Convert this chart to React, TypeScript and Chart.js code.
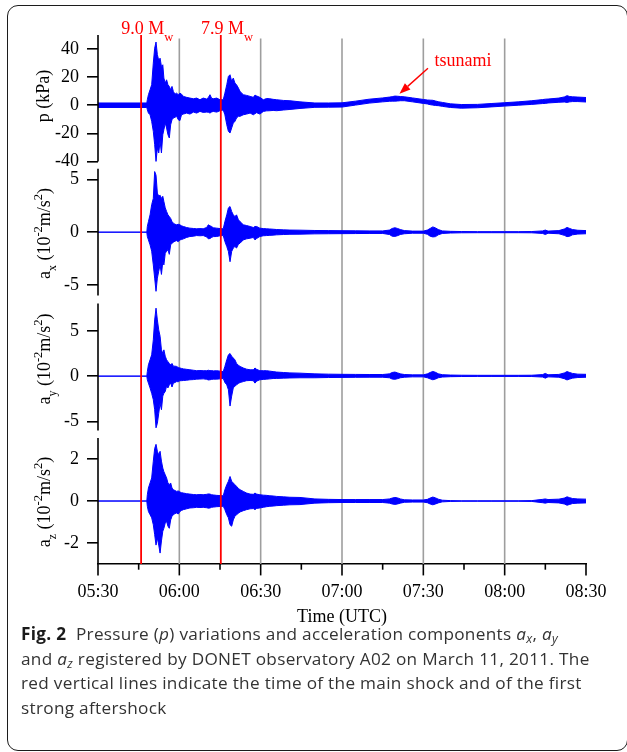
import React, { useEffect, useRef } from 'react';
import { Chart, registerables } from 'chart.js';

Chart.register(...registerables);

// ---------- data (time in minutes after 05:30 UTC) ----------
const TIME_MIN = [
  0, 18.0, 18.2, 18.6, 19.2, 19.8, 20.4, 20.9, 21.4, 21.9,
  22.4, 22.9, 23.4, 23.9, 24.3, 24.8, 25.3, 25.8, 26.3, 26.8,
  27.3, 27.8, 28.4, 29.0, 29.6, 30.2, 30.8, 31.5, 32.7, 33.9,
  35.2, 36.4, 37.6, 38.8, 40.1, 40.7, 41.3, 41.9, 42.5, 43.8,
  45.0, 46.2, 46.8, 47.5, 48.1, 48.7, 49.3, 49.9, 50.5, 51.1,
  51.8, 52.4, 53.6, 54.8, 56.1, 57.3, 57.9, 58.5, 59.7, 61.0,
  62.2, 63.4, 64.6, 65.9, 68.4, 70.8, 74.5, 80, 85, 90,
  95, 100, 105, 107.5, 108.5, 109.5, 110.5, 111.5, 113, 116,
  120, 121.5, 122.5, 123.5, 124.5, 125.5, 127, 130, 134, 140,
  145, 150, 155, 160, 164, 165, 166, 170, 172, 173,
  174, 175, 177, 180,
];

// pressure p (kPa): upper / lower envelope
const P_HI = [
  1.6, 1.6, 3.9, 7.5, 11, 14.6, 30, 40.6, 45, 36,
  32, 33.5, 27.6, 28.8, 19.3, 15.8, 18.1, 14.6, 13.4, 11,
  13.4, 9.8, 7.9, 8.6, 7.5, 8.6, 7.9, 6.3, 5.6, 5.1,
  4.6, 5.1, 3.9, 5.1, 4.4, 5.5, 7.5, 5.0, 4.6, 5.1,
  3.9, 3.9, 8.6, 14.6, 20.5, 21.7, 17, 19.3, 15.8, 14.6,
  12.2, 9.8, 7.5, 7, 6.3, 5.6, 7.2, 6.6, 5.6, 3.9,
  4.8, 4.6, 4.2, 3.9, 3.4, 3.2, 2.4, 1.6, 1.6, 1.7,
  2.9, 4.3, 5.2, 5.8, 6.1, 6.5, 6.4, 6.2, 6.0, 5.2,
  4.1, 3.7, 3.6, 3.5, 3.0, 2.5, 2.0, 1.0, 0.5, 0.6,
  1.2, 1.8, 2.4, 3.2, 4.0, 4.3, 4.4, 5.1, 5.9, 6.8,
  6.2, 6.0, 5.8, 5.5,
];
const P_LO = [
  -1.6, -1.6, -3.2, -5.6, -6.8, -11.5, -18.6, -28, -40, -30.5,
  -34, -25.7, -34, -21, -17.4, -12.7, -16.2, -21, -23.3, -13.9,
  -10.3, -9.1, -8.6, -7.9, -10.3, -11, -6.8, -6.3, -5.6, -6.3,
  -4.9, -5.6, -4.4, -5.1, -4.9, -5.0, -5.6, -4.8, -4.4, -4.9,
  -3.9, -3.4, -6.8, -13.9, -18.6, -19.8, -16.2, -12.7, -11.5, -9.1,
  -7.9, -7.9, -6.8, -6.3, -5.6, -6.8, -6.0, -5.3, -6.3, -4.4,
  -4.0, -3.9, -3.7, -3.9, -3.4, -3.0, -2.3, -1.5, -1.4, -1.3,
  0.1, 1.5, 2.4, 2.8, 2.9, 2.9, 3.0, 3.2, 3.2, 2.4,
  1.3, 0.9, 0.4, 0.1, -0.2, -0.3, -0.8, -1.6, -2.1, -1.8,
  -1.2, -0.6, 0, 0.6, 1.2, 1.3, 1.6, 2.1, 2.3, 2.0,
  2.4, 2.6, 2.6, 2.3,
];

// a_x (10^-2 m/s^2)
const AX_HI = [
  0, 0, 0.54, 1.0, 1.64, 2.6, 3.2, 5.74, 5.4, 3.7,
  3.4, 3.5, 3.2, 3.4, 2.9, 2.3, 1.96, 1.64, 1.48, 1.3,
  1.0, 0.85, 0.75, 0.7, 0.75, 0.7, 0.6, 0.54, 0.44, 0.38,
  0.35, 0.32, 0.34, 0.32, 0.45, 0.7, 0.6, 0.54, 0.42, 0.38,
  0.34, 0.32, 1.0, 1.64, 2.3, 2.43, 1.96, 1.64, 1.48, 1.64,
  1.17, 1.0, 0.7, 0.63, 0.54, 0.44, 0.54, 0.54, 0.38, 0.34,
  0.32, 0.3, 0.28, 0.25, 0.22, 0.2, 0.19, 0.16, 0.15, 0.14,
  0.13, 0.12, 0.12, 0.2, 0.35, 0.42, 0.35, 0.25, 0.15, 0.1,
  0.1, 0.2, 0.35, 0.5, 0.4, 0.25, 0.12, 0.08, 0.06, 0.05,
  0.05, 0.05, 0.05, 0.06, 0.12, 0.2, 0.1, 0.15, 0.3, 0.45,
  0.35, 0.25, 0.18, 0.15,
];
const AX_LO = [
  0, 0, -0.41, -0.73, -1.2, -1.8, -3.1, -4.35, -5.6, -4.35,
  -3.7, -3.1, -4.0, -2.8, -3.1, -2.0, -1.8, -1.67, -2.1, -1.2,
  -1.04, -0.95, -0.85, -0.8, -0.9, -0.73, -0.7, -0.63, -0.5, -0.41,
  -0.38, -0.32, -0.34, -0.32, -0.45, -0.63, -0.6, -0.5, -0.42, -0.41,
  -0.34, -0.32, -0.88, -1.36, -1.83, -2.8, -1.83, -1.5, -1.36, -1.5,
  -1.14, -1.04, -0.73, -0.63, -0.57, -0.5, -0.73, -0.6, -0.41, -0.34,
  -0.32, -0.3, -0.28, -0.25, -0.22, -0.2, -0.19, -0.16, -0.15, -0.14,
  -0.13, -0.12, -0.12, -0.22, -0.38, -0.4, -0.33, -0.22, -0.15, -0.1,
  -0.1, -0.2, -0.38, -0.45, -0.42, -0.25, -0.12, -0.08, -0.06, -0.05,
  -0.05, -0.05, -0.05, -0.06, -0.12, -0.22, -0.1, -0.15, -0.3, -0.42,
  -0.38, -0.25, -0.18, -0.15,
];

// a_y (10^-2 m/s^2)
const AY_HI = [
  0, 0, 0.5, 1.25, 1.8, 2.35, 4.0, 6.2, 7.5, 6.2,
  5.1, 4.4, 2.9, 2.5, 2.9, 2.2, 1.8, 1.6, 1.4, 1.25,
  1.4, 1.1, 1.1, 1.07, 0.95, 0.9, 0.85, 0.8, 0.75, 0.7,
  0.65, 0.6, 0.62, 0.6, 0.6, 0.65, 0.6, 0.62, 0.58, 0.6,
  0.55, 0.5, 1.07, 1.8, 2.35, 2.5, 2.2, 2.0, 1.8, 1.4,
  1.2, 1.07, 0.9, 0.77, 0.7, 0.7, 0.9, 0.75, 0.6, 0.6,
  0.6, 0.55, 0.5, 0.45, 0.4, 0.36, 0.33, 0.25, 0.22, 0.2,
  0.19, 0.18, 0.18, 0.25, 0.4, 0.45, 0.36, 0.25, 0.18, 0.14,
  0.14, 0.25, 0.4, 0.52, 0.42, 0.26, 0.16, 0.12, 0.1, 0.09,
  0.09, 0.09, 0.09, 0.1, 0.17, 0.3, 0.15, 0.19, 0.35, 0.5,
  0.4, 0.3, 0.22, 0.2,
];
const AY_LO = [
  0, 0, -0.4, -0.77, -1.3, -1.9, -2.6, -3.7, -5.7, -5.2,
  -4.1, -3.0, -3.7, -2.2, -1.9, -1.7, -1.1, -1.3, -0.96, -0.77,
  -1.2, -0.77, -0.7, -0.6, -0.62, -0.5, -0.5, -0.48, -0.45, -0.4,
  -0.38, -0.33, -0.32, -0.3, -0.35, -0.42, -0.4, -0.36, -0.33, -0.33,
  -0.3, -0.26, -0.7, -0.96, -1.5, -3.3, -2.2, -1.3, -1.1, -0.96,
  -0.8, -0.7, -0.6, -0.5, -0.48, -0.5, -0.77, -0.55, -0.4, -0.36,
  -0.33, -0.3, -0.26, -0.25, -0.22, -0.2, -0.18, -0.18, -0.15, -0.14,
  -0.13, -0.12, -0.12, -0.18, -0.32, -0.35, -0.28, -0.18, -0.12, -0.08,
  -0.08, -0.18, -0.3, -0.4, -0.32, -0.18, -0.1, -0.06, -0.04, -0.03,
  -0.03, -0.03, -0.03, -0.04, -0.1, -0.22, -0.08, -0.12, -0.28, -0.42,
  -0.32, -0.22, -0.15, -0.12,
];

// a_z (10^-2 m/s^2)
const AZ_HI = [
  0, 0, 0.3, 0.62, 0.86, 1.1, 1.9, 2.5, 2.7, 2.37,
  2.2, 2.37, 1.9, 1.57, 1.4, 1.25, 1.1, 0.86, 0.78, 0.86,
  0.62, 0.54, 0.5, 0.46, 0.48, 0.43, 0.4, 0.38, 0.35, 0.33,
  0.31, 0.3, 0.31, 0.3, 0.32, 0.34, 0.33, 0.3, 0.29, 0.27,
  0.26, 0.25, 0.54, 0.78, 0.94, 1.17, 0.94, 0.86, 0.78, 0.7,
  0.6, 0.54, 0.46, 0.38, 0.33, 0.32, 0.38, 0.33, 0.3, 0.28,
  0.27, 0.25, 0.24, 0.22, 0.2, 0.18, 0.17, 0.1, 0.08, 0.07,
  0.07, 0.07, 0.07, 0.1, 0.14, 0.17, 0.15, 0.1, 0.06, 0.05,
  0.05, 0.08, 0.14, 0.19, 0.15, 0.09, 0.04, 0.02, 0.01, 0.01,
  0.01, 0.01, 0.01, 0.02, 0.08, 0.1, 0.07, 0.09, 0.14, 0.2,
  0.16, 0.12, 0.1, 0.09,
];
const AZ_LO = [
  0, 0, -0.25, -0.5, -0.65, -0.8, -1.13, -1.6, -2.1, -1.76,
  -2.1, -2.48, -1.9, -1.44, -1.3, -1.05, -0.97, -1.2, -1.3, -0.9,
  -0.73, -0.65, -0.6, -0.57, -0.62, -0.5, -0.45, -0.41, -0.37, -0.33,
  -0.32, -0.3, -0.31, -0.3, -0.32, -0.34, -0.33, -0.3, -0.29, -0.27,
  -0.26, -0.25, -0.41, -0.65, -0.8, -1.13, -1.2, -0.9, -0.73, -0.65,
  -0.58, -0.52, -0.46, -0.41, -0.37, -0.36, -0.41, -0.35, -0.33, -0.3,
  -0.27, -0.25, -0.24, -0.22, -0.2, -0.18, -0.17, -0.1, -0.08, -0.07,
  -0.07, -0.07, -0.07, -0.1, -0.14, -0.16, -0.14, -0.1, -0.06, -0.05,
  -0.05, -0.08, -0.14, -0.18, -0.14, -0.09, -0.04, -0.02, -0.01, -0.01,
  -0.01, -0.01, -0.01, -0.02, -0.08, -0.1, -0.07, -0.09, -0.14, -0.2,
  -0.16, -0.12, -0.1, -0.09,
];

// axes / annotations
const X_TICK_MIN = [0, 15, 30, 45, 60, 75, 90, 105, 120, 135, 150, 165, 180];
const TIME_LABELS = ['05:30', '06:00', '06:30', '07:00', '07:30', '08:00', '08:30'];
const GRID_MIN = [30, 60, 90, 120, 150];
const SHOCK_MIN = [15.9, 45.3];
const SHOCK_MAG = ['9.0', '7.9'];
const P_TICKS = [-40, -20, 0, 20, 40];
const AX_TICKS = [-5, 0, 5];
const AY_TICKS = [-5, 0, 5];
const AZ_TICKS = [-2, 0, 2];
const TSUNAMI_AT = { t: 111.2, p: 8.2 };

// ---------- styles ----------
const SERIF = '"Liberation Serif", "Times New Roman", serif';
const BLUE = 'rgb(0,0,255)';
const RED = 'rgb(255,0,0)';
const fnt = (s: number) => `${s}px ${SERIF}`;

type Seg = { text: string; size: number; dy?: number };
const aTitle = (c: string): Seg[] => [
  { text: 'a', size: 18 },
  { text: c, size: 12, dy: 5.5 },
  { text: ' (10', size: 18 },
  { text: '-2', size: 12.5, dy: -8.5 },
  { text: 'm/s', size: 18 },
  { text: '2', size: 12.5, dy: -8.5 },
  { text: ')', size: 18 },
];

const PANELS = [
  { id: 'yP', hi: P_HI, lo: P_LO, ticks: P_TICKS, min: -42.86, max: 50, axLo: -40, axHi: 50, sw: 130.5, order: 4,
    title: [{ text: 'p (kPa)', size: 18 }] as Seg[], tx: 48.5, ty: 96 },
  { id: 'yAx', hi: AX_HI, lo: AX_LO, ticks: AX_TICKS, min: -6.36, max: 6.32, axLo: -6, axHi: 6, sw: 134, order: 3,
    title: aTitle('x'), tx: 50, ty: 233.5 },
  { id: 'yAy', hi: AY_HI, lo: AY_LO, ticks: AY_TICKS, min: -6.39, max: 8.47, axLo: -6, axHi: 8, sw: 134.8, order: 2,
    title: aTitle('y'), tx: 50, ty: 359 },
  { id: 'yAz', hi: AZ_HI, lo: AZ_LO, ticks: AZ_TICKS, min: -3.0, max: 3.19, axLo: -3, axHi: 3, sw: 130, order: 1,
    title: aTitle('z'), tx: 50, ty: 502 },
];

function segWidth(ctx: CanvasRenderingContext2D, segs: Seg[]) {
  let w = 0;
  for (const s of segs) { ctx.font = fnt(s.size); w += ctx.measureText(s.text).width; }
  return w;
}
function drawSegs(ctx: CanvasRenderingContext2D, segs: Seg[], x: number, y: number) {
  let cx = x;
  for (const s of segs) {
    ctx.font = fnt(s.size);
    ctx.fillText(s.text, cx, y + (s.dy || 0));
    cx += ctx.measureText(s.text).width;
  }
}

const overlay = {
  id: 'overlay',
  beforeDatasetsDraw(chart: any) {
    const { ctx, chartArea, scales } = chart;
    ctx.save();
    ctx.strokeStyle = 'rgb(158,158,158)';
    ctx.lineWidth = 1.6;
    for (const t of GRID_MIN) {
      const px = scales.x.getPixelForValue(t);
      ctx.beginPath();
      ctx.moveTo(px, chartArea.top + 3.5);
      ctx.lineTo(px, chartArea.bottom);
      ctx.stroke();
    }
    ctx.restore();
  },
  afterDatasetsDraw(chart: any) {
    const { ctx, chartArea, scales } = chart;
    ctx.save();
    ctx.strokeStyle = RED;
    ctx.lineWidth = 1.8;
    for (const t of SHOCK_MIN) {
      const px = scales.x.getPixelForValue(t);
      ctx.beginPath();
      ctx.moveTo(px, chartArea.top);
      ctx.lineTo(px, chartArea.bottom);
      ctx.stroke();
    }
    ctx.restore();
  },
  afterDraw(chart: any) {
    const { ctx, chartArea, scales } = chart;
    const xs = scales.x;
    ctx.save();
    // y axis lines (one per panel)
    ctx.strokeStyle = '#000';
    ctx.lineWidth = 1.6;
    for (const p of PANELS) {
      const s = scales[p.id];
      ctx.beginPath();
      ctx.moveTo(chartArea.left, s.getPixelForValue(p.axHi));
      ctx.lineTo(chartArea.left, s.getPixelForValue(p.axLo));
      ctx.stroke();
    }
    // x tick marks (major every 30 min, minor every 15)
    for (const t of X_TICK_MIN) {
      const px = xs.getPixelForValue(t);
      const len = t % 30 === 0 ? 11.4 : 5.7;
      ctx.beginPath();
      ctx.moveTo(px, chartArea.bottom);
      ctx.lineTo(px, chartArea.bottom + len);
      ctx.stroke();
    }
    // axis titles
    ctx.fillStyle = '#000';
    ctx.textBaseline = 'alphabetic';
    ctx.textAlign = 'left';
    for (const p of PANELS) {
      ctx.save();
      ctx.translate(p.tx, p.ty);
      ctx.rotate(-Math.PI / 2);
      const w = segWidth(ctx, p.title);
      drawSegs(ctx, p.title, -w / 2, 0);
      ctx.restore();
    }
    ctx.font = fnt(18);
    ctx.textAlign = 'center';
    ctx.fillText('Time (UTC)', (chartArea.left + chartArea.right) / 2, 622);
    // magnitude labels
    ctx.textAlign = 'left';
    ctx.fillStyle = RED;
    SHOCK_MIN.forEach((t, i) => {
      const px = xs.getPixelForValue(t);
      drawSegs(ctx, [{ text: SHOCK_MAG[i] + ' M', size: 18 }, { text: 'w', size: 12.5, dy: 6.4 }], px - 19.8, 34.3);
    });
    // tsunami annotation
    const tipX = xs.getPixelForValue(TSUNAMI_AT.t);
    const tipY = scales.yP.getPixelForValue(TSUNAMI_AT.p);
    ctx.font = fnt(18);
    ctx.fillText('tsunami', tipX + 35, tipY - 27.3);
    const tailX = tipX + 28.5, tailY = tipY - 25.5;
    const ang = Math.atan2(tipY - tailY, tipX - tailX);
    const hl = 11, hw = 4.2;
    const bx = tipX - hl * Math.cos(ang), by = tipY - hl * Math.sin(ang);
    ctx.strokeStyle = RED;
    ctx.lineWidth = 1.4;
    ctx.beginPath();
    ctx.moveTo(tailX, tailY);
    ctx.lineTo(bx, by);
    ctx.stroke();
    ctx.beginPath();
    ctx.moveTo(tipX, tipY);
    ctx.lineTo(bx + hw * Math.sin(ang), by - hw * Math.cos(ang));
    ctx.lineTo(bx - hw * Math.sin(ang), by + hw * Math.cos(ang));
    ctx.closePath();
    ctx.fill();
    ctx.restore();
  },
};

export default function App() {
  const canvasRef = useRef<HTMLCanvasElement | null>(null);

  useEffect(() => {
    if (!canvasRef.current) return;
    const datasets: any[] = [];
    for (const p of PANELS) {
      datasets.push({
        data: TIME_MIN.map((t, i) => ({ x: t, y: p.hi[i] })),
        yAxisID: p.id, borderColor: BLUE, backgroundColor: BLUE, borderWidth: 1,
        pointRadius: 0, tension: 0, fill: '+1',
      });
      datasets.push({
        data: TIME_MIN.map((t, i) => ({ x: t, y: p.lo[i] })),
        yAxisID: p.id, borderColor: BLUE, backgroundColor: BLUE, borderWidth: 1,
        pointRadius: 0, tension: 0, fill: false,
      });
    }
    const scales: any = {
      x: {
        type: 'linear', min: 0, max: 180,
        afterBuildTicks: (s: any) => { s.ticks = X_TICK_MIN.map((v) => ({ value: v })); },
        afterFit: (s: any) => { s.height = 66; },
        ticks: {
          autoSkip: false, maxRotation: 0, minRotation: 0, padding: 17, color: '#000',
          font: { family: SERIF, size: 18 },
          callback: (v: number) => (v % 30 === 0 ? TIME_LABELS[v / 30] : ''),
        },
        grid: { display: false, drawOnChartArea: false, drawTicks: false },
        border: { display: true, color: '#000', width: 1.6 },
      },
    };
    for (const p of PANELS) {
      scales[p.id] = {
        type: 'linear', position: 'left', stack: 'panels', stackWeight: p.sw, weight: p.order,
        min: p.min, max: p.max,
        afterBuildTicks: (s: any) => { s.ticks = p.ticks.map((v) => ({ value: v })); },
        afterFit: (s: any) => { s.width = 98; },
        ticks: { autoSkip: false, padding: 8, color: '#000', font: { family: SERIF, size: 18 }, callback: (v: number) => String(v) },
        grid: { display: true, drawOnChartArea: false, drawTicks: true, tickLength: 11, tickColor: '#000', tickWidth: 1.6, color: '#000', lineWidth: 1.6 },
        border: { display: false },
      };
    }
    const chart = new Chart(canvasRef.current, {
      type: 'line',
      data: { datasets },
      options: {
        responsive: false,
        animation: false,
        devicePixelRatio: 1,
        events: [],
        layout: { padding: { top: 35, right: 41, bottom: 0, left: 0 } },
        plugins: { legend: { display: false }, tooltip: { enabled: false } },
        scales,
      } as any,
      plugins: [overlay],
    });
    return () => chart.destroy();
  }, []);

  const sub: React.CSSProperties = { fontSize: '0.72em', verticalAlign: '-0.28em', lineHeight: 0 };

  return (
    <div style={{ position: 'absolute', left: 0, top: 0, width: 627, height: 752, background: '#fff' }}>
      <div style={{
        position: 'absolute', left: 7, top: 5, width: 621, height: 746, boxSizing: 'border-box',
        border: '1.5px solid #1c1c1c', borderRadius: 11,
      }} />
      <canvas ref={canvasRef} width={627} height={630}
        style={{ position: 'absolute', left: 0, top: 0, width: 627, height: 630 }} />
      <div style={{
        position: 'absolute', left: 21, top: 622, whiteSpace: 'nowrap',
        fontFamily: '"Open Sans", "Noto Sans", sans-serif', fontSize: 17.2, letterSpacing: '0.3px',
        lineHeight: '24.5px', color: '#333',
      }}>
        <div><b style={{ color: '#1a1a1a' }}>Fig. 2</b>{'\u00a0 '}Pressure (<i>p</i>) variations and acceleration components <i>a<sub style={sub}>x</sub></i>, <i>a<sub style={sub}>y</sub></i></div>
        <div>and <i>a<sub style={sub}>z</sub></i> registered by DONET observatory A02 on March 11, 2011. The</div>
        <div>red vertical lines indicate the time of the main shock and of the first</div>
        <div>strong aftershock</div>
      </div>
    </div>
  );
}
